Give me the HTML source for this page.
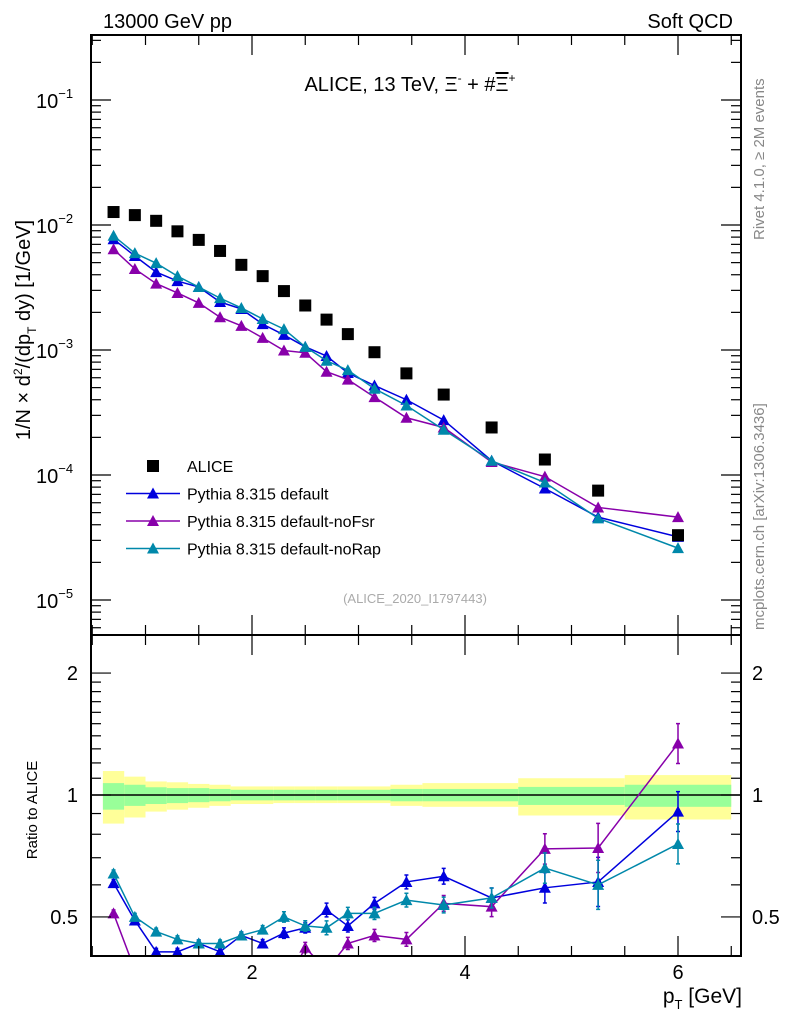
<!DOCTYPE html>
<html><head><meta charset="utf-8"><style>
html,body{margin:0;padding:0;background:#fff;}
svg{display:block;font-family:"Liberation Sans",sans-serif;}
</style></head><body>
<svg id="chart" width="786" height="1024" viewBox="0 0 786 1024">
<rect width="786" height="1024" fill="#fff"/>
<g id="bands"></g>
<g id="marks"></g>
<g id="axes"></g>
<text x="103" y="28" font-size="20">13000 GeV pp</text>
<text x="733" y="28" font-size="20" text-anchor="end">Soft QCD</text>
<text x="410" y="91" font-size="20" text-anchor="middle">ALICE, 13 TeV, Ξ<tspan font-size="12" dy="-9">-</tspan><tspan dy="9"> + #</tspan><tspan text-decoration="overline">Ξ</tspan><tspan font-size="12" dy="-9">+</tspan></text>
<text x="415" y="603" font-size="13" fill="#aaa" text-anchor="middle">(ALICE_2020_I1797443)</text>
<text transform="translate(764,240) rotate(-90)" font-size="15" fill="#888">Rivet 4.1.0, ≥ 2M events</text>
<text transform="translate(764,630) rotate(-90)" font-size="15" fill="#888">mcplots.cern.ch [arXiv:1306.3436]</text>
<text transform="translate(30,330) rotate(-90)" font-size="20" text-anchor="middle">1/N × d<tspan font-size="12" dy="-8">2</tspan><tspan dy="8">/(dp</tspan><tspan font-size="12" dy="6">T</tspan><tspan dy="-6"> dy) [1/GeV]</tspan></text>
<text transform="translate(37,810) rotate(-90)" font-size="15" text-anchor="middle">Ratio to ALICE</text>
<text x="742" y="1003" font-size="21" text-anchor="end">p<tspan font-size="13" dy="6">T</tspan><tspan dy="-6"> [GeV]</tspan></text>
<g id="legend"></g>
</svg>
<script>
const xVals=[0.7,0.9,1.1,1.3,1.5,1.7,1.9,2.1,2.3,2.5,2.7,2.9,3.15,3.45,3.8,4.25,4.75,5.25,6.0];
const aliceVals=[1.27e-2,1.2e-2,1.08e-2,8.9e-3,7.6e-3,6.2e-3,4.8e-3,3.9e-3,2.96e-3,2.27e-3,1.75e-3,1.34e-3,9.6e-4,6.5e-4,4.4e-4,2.4e-4,1.33e-4,7.5e-5,3.3e-5];
const defVals=[7.7e-3,5.65e-3,4.2e-3,3.56e-3,3.19e-3,2.42e-3,2.13e-3,1.61e-3,1.32e-3,1.06e-3,8.95e-4,6.55e-4,5.2e-4,4.0e-4,2.75e-4,1.3e-4,7.8e-5,4.6e-5,3.2e-5];
const noFsrVals=[6.4e-3,4.45e-3,3.4e-3,2.86e-3,2.38e-3,1.83e-3,1.56e-3,1.25e-3,9.9e-4,9.5e-4,6.7e-4,5.8e-4,4.2e-4,2.87e-4,2.4e-4,1.27e-4,9.7e-5,5.5e-5,4.6e-5];
const noRapVals=[8.2e-3,5.95e-3,4.95e-3,3.9e-3,3.19e-3,2.6e-3,2.17e-3,1.77e-3,1.47e-3,1.06e-3,8.2e-4,6.9e-4,4.9e-4,3.6e-4,2.3e-4,1.3e-4,8.7e-5,4.5e-5,2.6e-5];
const defRatio=[0.606,0.49,0.41,0.41,0.43,0.41,0.45,0.43,0.456,0.47,0.52,0.475,0.54,0.61,0.63,0.557,0.59,0.61,0.91];
const noFsrRatio=[0.51,0.37,0.31,0.32,0.31,0.30,0.32,0.32,0.33,0.42,0.37,0.43,0.45,0.44,0.54,0.53,0.736,0.74,1.34];
const noRapRatio=[0.64,0.50,0.46,0.44,0.43,0.43,0.45,0.465,0.50,0.475,0.47,0.51,0.51,0.55,0.535,0.557,0.66,0.60,0.757];
const ratioRelErr=[0.02,0.02,0.02,0.02,0.02,0.02,0.02,0.023,0.03,0.03,0.04,0.035,0.035,0.04,0.046,0.058,0.09,0.15,0.12];
const binEdges=[0.6,0.8,1.0,1.2,1.4,1.6,1.8,2.0,2.2,2.4,2.6,2.8,3.0,3.3,3.6,4.0,4.5,5.0,5.5,6.5];
const yelUp=[1.146,1.11,1.08,1.075,1.065,1.06,1.05,1.05,1.05,1.05,1.05,1.05,1.05,1.06,1.07,1.07,1.10,1.10,1.12];
const yelDn=[0.85,0.88,0.91,0.92,0.93,0.94,0.95,0.95,0.955,0.955,0.955,0.955,0.955,0.94,0.935,0.935,0.89,0.89,0.87];
const grnUp=[1.07,1.06,1.045,1.04,1.04,1.035,1.03,1.03,1.03,1.03,1.03,1.03,1.03,1.035,1.035,1.035,1.047,1.047,1.06];
const grnDn=[0.92,0.94,0.95,0.955,0.96,0.965,0.97,0.97,0.97,0.97,0.97,0.97,0.97,0.965,0.965,0.965,0.945,0.945,0.935];
const mainTickLabels=["10","10","10","10","10"];
const mainTickExps=["−1","−2","−3","−4","−5"];
const ratioTickVals=[0.5,1,2];
const ratioTickLabels=["0.5","1","2"];
const xTickVals=[2,4,6];
const xTickLabels=["2","4","6"];

const L=91,R=741,T=35,MB=635,B=956;
const NS="http://www.w3.org/2000/svg";
function px(x){return 252+(x-2)*106.5;}
function pyMain(v){return 100+(-1-Math.log10(v))*125;}
function pyRatio(r){return 795-Math.log10(r)*405;}
function mk(tag,attrs,parent){const e=document.createElementNS(NS,tag);for(const k in attrs)e.setAttribute(k,attrs[k]);parent.appendChild(e);return e;}
const bands=document.getElementById('bands'),marks=document.getElementById('marks'),axes=document.getElementById('axes'),legend=document.getElementById('legend');

for(let i=0;i<binEdges.length-1;i++){
  const x0=px(binEdges[i]),x1=px(binEdges[i+1]);
  const y=mk('rect',{x:x0,y:pyRatio(yelUp[i]),width:x1-x0,height:pyRatio(yelDn[i])-pyRatio(yelUp[i]),fill:'#ffff99'},bands);
  
  
  const g=mk('rect',{x:x0,y:pyRatio(grnUp[i]),width:x1-x0,height:pyRatio(grnDn[i])-pyRatio(grnUp[i]),fill:'#99ff99'},bands);
  
  
}
const one=mk('line',{x1:L,x2:R,y1:pyRatio(1),y2:pyRatio(1),stroke:'#000','stroke-width':1.5},bands);



const defs=mk('defs',{},document.getElementById('chart'));
const c1=mk('clipPath',{id:'cm'},defs);mk('rect',{x:L,y:T,width:R-L,height:MB-T},c1);
const c2=mk('clipPath',{id:'cr'},defs);mk('rect',{x:L,y:MB,width:R-L,height:B-MB},c2);

function tri(x,y,col,parent,name){
  const p=mk('polygon',{points:`${x},${y-6} ${x-6},${y+5} ${x+6},${y+5}`,fill:col},parent);
  
  
}
const series=[
  {name:'default',col:'#0000dd',main:defVals,ratio:defRatio},
  {name:'noFsr',col:'#8800aa',main:noFsrVals,ratio:noFsrRatio},
  {name:'noRap',col:'#0088aa',main:noRapVals,ratio:noRapRatio}];
const gm=mk('g',{'clip-path':'url(#cm)'},marks);
const gr=mk('g',{'clip-path':'url(#cr)'},marks);
series.forEach(s=>{
  const l1=mk('polyline',{points:xVals.map((x,i)=>px(x)+','+pyMain(s.main[i])).join(' '),fill:'none',stroke:s.col,'stroke-width':1.5},gm);
  
  
  xVals.forEach((x,i)=>tri(px(x),pyMain(s.main[i]),s.col,gm,'point-'+s.name));
  const l2=mk('polyline',{points:xVals.map((x,i)=>px(x)+','+pyRatio(s.ratio[i])).join(' '),fill:'none',stroke:s.col,'stroke-width':1.5},gr);
  
  
  xVals.forEach((x,i)=>{
    const X=px(x),ya=pyRatio(s.ratio[i]*(1+ratioRelErr[i])),yb=pyRatio(s.ratio[i]/(1+ratioRelErr[i]));
    const eb=mk('path',{d:`M${X},${ya}V${yb}M${X-2},${ya}H${X+2}M${X-2},${yb}H${X+2}`,stroke:s.col,'stroke-width':1.5,fill:'none'},gr);
    
    
    tri(X,pyRatio(s.ratio[i]),s.col,gr,'ratio-point-'+s.name);
  });
});
xVals.forEach((x,i)=>{
  const r=mk('rect',{x:px(x)-6,y:pyMain(aliceVals[i])-6,width:12,height:12,fill:'#000'},gm);
  
  
});

[[T,MB],[MB,B]].forEach(([a,b])=>{
  const f=mk('rect',{x:L,y:a,width:R-L,height:b-a,fill:'none',stroke:'#000','stroke-width':2},axes);
  
  
});
for(let d=-6;d<=0;d++){
  for(let m=1;m<10;m++){
    const v=m*Math.pow(10,d);const y=pyMain(v);
    if(y<T||y>MB)continue;
    const len=m==1?20:10;
    mk('line',{x1:L,x2:L+len,y1:y,y2:y,stroke:'#000','stroke-width':1.2},axes);
    mk('line',{x1:R,x2:R-len,y1:y,y2:y,stroke:'#000','stroke-width':1.2},axes);
  }
}
mainTickLabels.forEach((t,i)=>{
  const y=pyMain(Math.pow(10,-1-i));
  const tx=mk('text',{x:36,y:y+8,'font-size':20},axes);
  tx.textContent=t;
  const sp=mk('tspan',{'font-size':13,dy:-10},tx);sp.textContent=mainTickExps[i];
  
  
});
for(let k=4;k<=20;k++){
  const rr=k/10;const y=pyRatio(rr);
  if(y<MB||y>B-1)continue;
  const big=(k==5||k==10||k==20);
  const len=big?20:10;
  mk('line',{x1:L,x2:L+len,y1:y,y2:y,stroke:'#000','stroke-width':1.2},axes);
  mk('line',{x1:R,x2:R-len,y1:y,y2:y,stroke:'#000','stroke-width':1.2},axes);
}
ratioTickVals.forEach((v,i)=>{
  const y=pyRatio(v)+7;
  const a=mk('text',{x:78,y:y,'font-size':20,'text-anchor':'end'},axes);a.textContent=ratioTickLabels[i];
  
  
  const b=mk('text',{x:752,y:y,'font-size':20},axes);b.textContent=ratioTickLabels[i];
  
  
});
for(let k=1;k<=13;k++){
  const x=k*0.5;const X=px(x);const big=(k%4==0);const len=big?20:10;
  [[T,1],[MB,-1],[MB,1],[B,-1]].forEach(([y0,dir])=>mk('line',{x1:X,x2:X,y1:y0,y2:y0+dir*len,stroke:'#000','stroke-width':1.2},axes));
}
xTickVals.forEach((v,i)=>{
  const t=mk('text',{x:px(v),y:979,'font-size':20,'text-anchor':'middle'},axes);t.textContent=xTickLabels[i];
  
  
});
const leg=[['ALICE','#000','sq'],['Pythia 8.315 default','#0000dd'],['Pythia 8.315 default-noFsr','#8800aa'],['Pythia 8.315 default-noRap','#0088aa']];
leg.forEach((e,i)=>{
  const y=466+i*27.5;
  const g=mk('g',{},legend);
  
  
  if(e[2]){mk('rect',{x:147,y:y-6,width:12,height:12,fill:'#000'},g);}
  else{mk('line',{x1:126,x2:180,y1:y,y2:y,stroke:e[1],'stroke-width':1.5},g);mk('polygon',{points:`153,${y-6} 147,${y+5} 159,${y+5}`,fill:e[1]},g);}
  const t=mk('text',{x:187,y:y+6,'font-size':16},g);t.textContent=e[0];
});
</script>
</body></html>
